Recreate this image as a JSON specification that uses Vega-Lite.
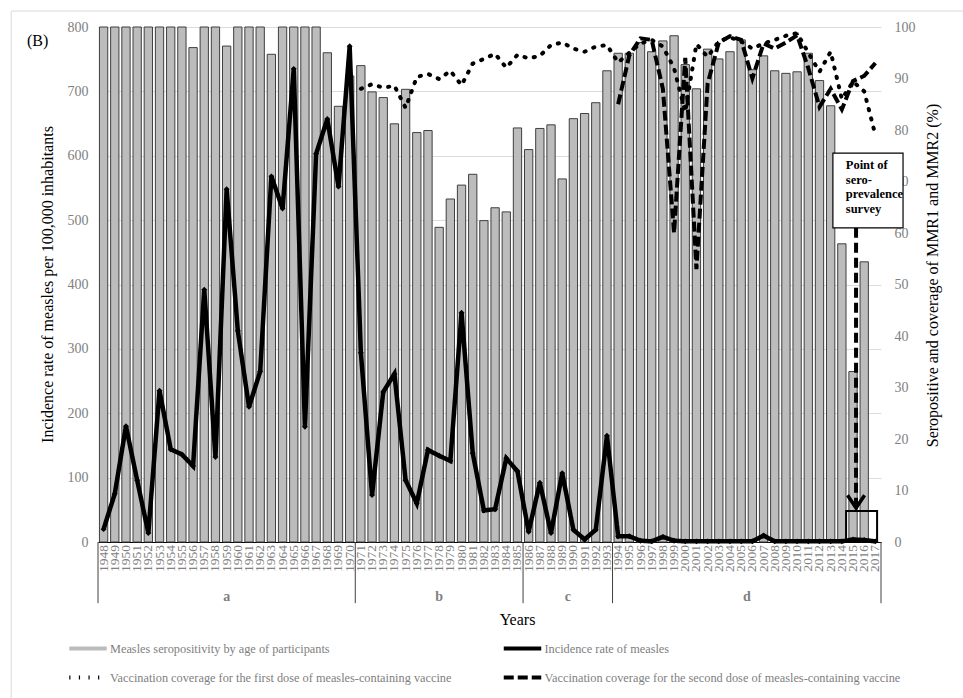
{
  "$schema": "https://vega.github.io/schema/vega-lite/v6.json",
  "width": 783,
  "height": 515,
  "autosize": {"type": "none"},
  "padding": {"left": 98, "top": 27, "right": 82, "bottom": 156},
  "background": "#ffffff",
  "config": {
    "font": "Liberation Serif",
    "view": {"stroke": null},
    "axis": {"labelFont": "Liberation Serif", "titleFont": "Liberation Serif"},
    "legend": {"labelFont": "Liberation Serif"},
    "title": {"font": "Liberation Serif"},
    "text": {"font": "Liberation Serif"}
  },
  "title": {"text": "(B)", "anchor": "start", "frame": "group", "orient": "top", "offset": 0, "baseline": "top", "dx": -71, "dy": 38, "fontSize": 16, "fontWeight": "normal", "color": "#000000"},
  "datasets": {
    "measles": [
      {"year": 1948, "sero": 100, "incidence": 20, "mmr1": null, "mmr2": null},
      {"year": 1949, "sero": 100, "incidence": 75, "mmr1": null, "mmr2": null},
      {"year": 1950, "sero": 100, "incidence": 180, "mmr1": null, "mmr2": null},
      {"year": 1951, "sero": 100, "incidence": 96, "mmr1": null, "mmr2": null},
      {"year": 1952, "sero": 100, "incidence": 14, "mmr1": null, "mmr2": null},
      {"year": 1953, "sero": 100, "incidence": 235, "mmr1": null, "mmr2": null},
      {"year": 1954, "sero": 100, "incidence": 144, "mmr1": null, "mmr2": null},
      {"year": 1955, "sero": 100, "incidence": 136, "mmr1": null, "mmr2": null},
      {"year": 1956, "sero": 96.0, "incidence": 118, "mmr1": null, "mmr2": null},
      {"year": 1957, "sero": 100, "incidence": 392, "mmr1": null, "mmr2": null},
      {"year": 1958, "sero": 100, "incidence": 132, "mmr1": null, "mmr2": null},
      {"year": 1959, "sero": 96.3, "incidence": 548, "mmr1": null, "mmr2": null},
      {"year": 1960, "sero": 100, "incidence": 328, "mmr1": null, "mmr2": null},
      {"year": 1961, "sero": 100, "incidence": 210, "mmr1": null, "mmr2": null},
      {"year": 1962, "sero": 100, "incidence": 265, "mmr1": null, "mmr2": null},
      {"year": 1963, "sero": 94.7, "incidence": 568, "mmr1": null, "mmr2": null},
      {"year": 1964, "sero": 100, "incidence": 518, "mmr1": null, "mmr2": null},
      {"year": 1965, "sero": 100, "incidence": 735, "mmr1": null, "mmr2": null},
      {"year": 1966, "sero": 100, "incidence": 179, "mmr1": null, "mmr2": null},
      {"year": 1967, "sero": 100, "incidence": 603, "mmr1": null, "mmr2": null},
      {"year": 1968, "sero": 95.0, "incidence": 657, "mmr1": null, "mmr2": null},
      {"year": 1969, "sero": 84.6, "incidence": 552, "mmr1": null, "mmr2": null},
      {"year": 1970, "sero": 90.5, "incidence": 770, "mmr1": null, "mmr2": null},
      {"year": 1971, "sero": 92.5, "incidence": 294, "mmr1": 88.0, "mmr2": null},
      {"year": 1972, "sero": 87.4, "incidence": 73, "mmr1": 88.9, "mmr2": null},
      {"year": 1973, "sero": 86.3, "incidence": 233, "mmr1": 88.2, "mmr2": null},
      {"year": 1974, "sero": 81.2, "incidence": 261, "mmr1": 88.6, "mmr2": null},
      {"year": 1975, "sero": 87.9, "incidence": 96, "mmr1": 84.3, "mmr2": null},
      {"year": 1976, "sero": 79.5, "incidence": 60, "mmr1": 90.3, "mmr2": null},
      {"year": 1977, "sero": 79.9, "incidence": 143, "mmr1": 90.9, "mmr2": null},
      {"year": 1978, "sero": 61.1, "incidence": 134, "mmr1": 89.9, "mmr2": null},
      {"year": 1979, "sero": 66.6, "incidence": 126, "mmr1": 91.5, "mmr2": null},
      {"year": 1980, "sero": 69.3, "incidence": 356, "mmr1": 88.7, "mmr2": null},
      {"year": 1981, "sero": 71.4, "incidence": 138, "mmr1": 92.9, "mmr2": null},
      {"year": 1982, "sero": 62.4, "incidence": 49, "mmr1": 93.8, "mmr2": null},
      {"year": 1983, "sero": 64.9, "incidence": 51, "mmr1": 94.8, "mmr2": null},
      {"year": 1984, "sero": 64.1, "incidence": 130, "mmr1": 92.1, "mmr2": null},
      {"year": 1985, "sero": 80.4, "incidence": 110, "mmr1": 94.6, "mmr2": null},
      {"year": 1986, "sero": 76.2, "incidence": 16, "mmr1": 93.9, "mmr2": null},
      {"year": 1987, "sero": 80.3, "incidence": 92, "mmr1": 94.4, "mmr2": null},
      {"year": 1988, "sero": 81.0, "incidence": 14, "mmr1": 96.5, "mmr2": null},
      {"year": 1989, "sero": 70.5, "incidence": 107, "mmr1": 97.0, "mmr2": null},
      {"year": 1990, "sero": 82.2, "incidence": 19, "mmr1": 95.8, "mmr2": null},
      {"year": 1991, "sero": 83.2, "incidence": 4, "mmr1": 95.2, "mmr2": null},
      {"year": 1992, "sero": 85.3, "incidence": 19, "mmr1": 96.2, "mmr2": null},
      {"year": 1993, "sero": 91.5, "incidence": 165, "mmr1": 96.5, "mmr2": null},
      {"year": 1994, "sero": 94.9, "incidence": 9, "mmr1": 93.1, "mmr2": 85.0},
      {"year": 1995, "sero": 94.9, "incidence": 9, "mmr1": 95.0, "mmr2": 94.5},
      {"year": 1996, "sero": 97.0, "incidence": 2, "mmr1": 96.8, "mmr2": 97.8},
      {"year": 1997, "sero": 95.2, "incidence": 1, "mmr1": 97.5, "mmr2": 97.5},
      {"year": 1998, "sero": 97.3, "incidence": 8, "mmr1": 96.2, "mmr2": 88.0},
      {"year": 1999, "sero": 98.3, "incidence": 2, "mmr1": 92.0, "mmr2": 60.0},
      {"year": 2000, "sero": 92.7, "incidence": 1, "mmr1": 83.5, "mmr2": 94.0},
      {"year": 2001, "sero": 88.0, "incidence": 1, "mmr1": 96.7, "mmr2": 53.0},
      {"year": 2002, "sero": 95.7, "incidence": 1, "mmr1": 94.2, "mmr2": 89.0},
      {"year": 2003, "sero": 93.8, "incidence": 1, "mmr1": 97.2, "mmr2": 97.0},
      {"year": 2004, "sero": 95.2, "incidence": 1, "mmr1": 98.0, "mmr2": 98.2},
      {"year": 2005, "sero": 97.5, "incidence": 1, "mmr1": 97.2, "mmr2": 97.5},
      {"year": 2006, "sero": 91.7, "incidence": 1, "mmr1": 95.8, "mmr2": 90.0},
      {"year": 2007, "sero": 94.4, "incidence": 10, "mmr1": 96.8, "mmr2": 96.8},
      {"year": 2008, "sero": 91.5, "incidence": 1, "mmr1": 97.5, "mmr2": 95.8},
      {"year": 2009, "sero": 91.0, "incidence": 1, "mmr1": 98.3, "mmr2": 97.0},
      {"year": 2010, "sero": 91.3, "incidence": 1, "mmr1": 98.8, "mmr2": 98.4},
      {"year": 2011, "sero": 94.9, "incidence": 1, "mmr1": 95.0, "mmr2": 92.0},
      {"year": 2012, "sero": 89.6, "incidence": 1, "mmr1": 91.3, "mmr2": 84.5},
      {"year": 2013, "sero": 84.7, "incidence": 1, "mmr1": 95.2, "mmr2": 88.0},
      {"year": 2014, "sero": 57.9, "incidence": 1, "mmr1": 86.0, "mmr2": 84.0},
      {"year": 2015, "sero": 33.1, "incidence": 4, "mmr1": 89.4, "mmr2": 89.5},
      {"year": 2016, "sero": 54.4, "incidence": 3, "mmr1": 87.5, "mmr2": 90.5},
      {"year": 2017, "sero": null, "incidence": 1, "mmr1": 79.0, "mmr2": 93.0}
    ],
    "groups": [
      {"group": "a", "mid": 1959},
      {"group": "b", "mid": 1978},
      {"group": "c", "mid": 1989.5},
      {"group": "d", "mid": 2005.5}
    ],
    "edges": [
      {"edge": 1947.5},
      {"edge": 1970.5},
      {"edge": 1985.5},
      {"edge": 1993.5},
      {"edge": 2017.5}
    ]
  },
  "layer": [
    {
      "data": {"name": "measles"},
      "layer": [
        {
          "mark": {"type": "bar", "width": 8.3, "stroke": "#3f3f3f"},
          "encoding": {
            "x": {
              "field": "year", "type": "quantitative", "title": "Years",
              "scale": {"domain": [1947.5, 2017.5], "nice": false, "zero": false, "padding": 0},
              "axis": {
                "labels": false, "ticks": false, "grid": false, "domainColor": "#000000", "domainWidth": 1,
                "titleFontSize": 16, "titleFontWeight": "normal", "titleColor": "#000000",
                "titleX": 419, "titleY": 77, "titleBaseline": "middle", "titleAlign": "center"
              }
            },
            "y": {
              "field": "sero", "type": "quantitative", "title": "Seropositive and coverage of MMR1 and MMR2 (%)",
              "scale": {"domain": [0, 100], "nice": false},
              "axis": {
                "orient": "right", "values": [0,10,20,30,40,50,60,70,80,90,100],
                "grid": false, "domain": false, "ticks": false,
                "labelColor": "#808080", "labelFontSize": 14, "labelPadding": 13,
                "titleFontSize": 16, "titleFontWeight": "normal", "titleColor": "#000000",
                "titleAngle": 270, "titleX": 51, "titleY": 248, "titleBaseline": "middle", "titleAlign": "center"
              }
            },
            "color": {
              "datum": "Measles seropositivity by age of participants", "type": "nominal",
              "scale": {
                "domain": [
                  "Measles seropositivity by age of participants",
                  "Incidence rate of measles",
                  "Vaccination coverage for the first dose of measles-containing vaccine",
                  "Vaccination coverage for the second dose of measles-containing vaccine"
                ],
                "range": ["#bcbcbc", "#000000", "#000000", "#000000"]
              },
              "legend": {
                "orient": "none", "legendX": -31, "legendY": 600.5, "columns": 2, "direction": "horizontal",
                "title": null, "symbolType": "stroke", "symbolSize": 1406, "symbolStrokeWidth": 4,
                "labelOffset": 1, "rowPadding": -18.5, "columnPadding": 29.5,
                "labelFontSize": 12.3, "labelColor": "#808080", "labelLimit": 600, "gridAlign": "all"
              }
            }
          }
        },
        {
          "mark": {"type": "line", "strokeWidth": 4, "strokeCap": "round"},
          "encoding": {
            "x": {"field": "year", "type": "quantitative", "title": "Years"},
            "y": {"field": "mmr1", "type": "quantitative", "title": "Seropositive and coverage of MMR1 and MMR2 (%)"},
            "color": {"datum": "Vaccination coverage for the first dose of measles-containing vaccine", "type": "nominal"},
            "strokeDash": {
              "datum": "Vaccination coverage for the first dose of measles-containing vaccine", "type": "nominal",
              "scale": {
                "domain": [
                  "Measles seropositivity by age of participants",
                  "Incidence rate of measles",
                  "Vaccination coverage for the first dose of measles-containing vaccine",
                  "Vaccination coverage for the second dose of measles-containing vaccine"
                ],
                "range": [[1, 0], [1, 0], [1.2, 8.4], [10, 4]]
              },
              "legend": {
                "orient": "none", "legendX": -31, "legendY": 600.5, "columns": 2, "direction": "horizontal",
                "title": null, "symbolType": "stroke", "symbolSize": 1406, "symbolStrokeWidth": 4,
                "labelOffset": 1, "rowPadding": -18.5, "columnPadding": 29.5,
                "labelFontSize": 12.3, "labelColor": "#808080", "labelLimit": 600, "gridAlign": "all"
              }
            }
          }
        },
        {
          "mark": {"type": "line", "strokeWidth": 4},
          "encoding": {
            "x": {"field": "year", "type": "quantitative", "title": "Years"},
            "y": {"field": "mmr2", "type": "quantitative", "title": "Seropositive and coverage of MMR1 and MMR2 (%)"},
            "color": {"datum": "Vaccination coverage for the second dose of measles-containing vaccine", "type": "nominal"},
            "strokeDash": {"datum": "Vaccination coverage for the second dose of measles-containing vaccine", "type": "nominal"}
          }
        }
      ]
    },
    {
      "layer": [
        {
          "data": {"name": "measles"},
          "mark": {"type": "line", "strokeWidth": 4.5, "strokeJoin": "miter"},
          "encoding": {
            "x": {"field": "year", "type": "quantitative", "title": "Years"},
            "y": {
              "field": "incidence", "type": "quantitative", "title": "Incidence rate of measles per 100,000 inhabitants",
              "scale": {"domain": [0, 800], "nice": false},
              "axis": {
                "orient": "left", "values": [0,100,200,300,400,500,600,700,800],
                "grid": true, "gridColor": "#dcdcdc", "domain": false, "ticks": false,
                "labelColor": "#808080", "labelFontSize": 14, "labelPadding": 10,
                "titleFontSize": 16, "titleFontWeight": "normal", "titleColor": "#000000",
                "titleAngle": 270, "titleX": -51, "titleY": 257, "titleBaseline": "middle", "titleAlign": "center"
              }
            },
            "color": {"datum": "Incidence rate of measles", "type": "nominal"},
            "strokeDash": {"datum": "Incidence rate of measles", "type": "nominal"}
          }
        },
        {
          "data": {"name": "measles"},
          "mark": {"type": "point", "shape": "diamond", "filled": true, "size": 35, "color": "#000000", "opacity": 1},
          "encoding": {
            "x": {"field": "year", "type": "quantitative", "title": "Years"},
            "y": {"field": "incidence", "type": "quantitative", "title": "Incidence rate of measles per 100,000 inhabitants"}
          }
        },
        {
          "data": {"name": "measles"},
          "mark": {"type": "text", "angle": 270, "align": "right", "baseline": "middle", "fontSize": 13.5, "color": "#808080"},
          "encoding": {
            "x": {"field": "year", "type": "quantitative", "title": "Years"},
            "y": {"datum": -4.7, "type": "quantitative"},
            "text": {"field": "year", "type": "quantitative", "format": "d"}
          }
        },
        {
          "data": {"name": "edges"},
          "mark": {"type": "rule", "color": "#404040", "strokeWidth": 1},
          "encoding": {
            "x": {"field": "edge", "type": "quantitative", "title": "Years"},
            "y": {"datum": 0, "type": "quantitative"},
            "y2": {"datum": -95}
          }
        },
        {
          "data": {"name": "groups"},
          "mark": {"type": "text", "fontSize": 14, "fontWeight": "bold", "color": "#808080", "baseline": "middle", "align": "center"},
          "encoding": {
            "x": {"field": "mid", "type": "quantitative", "title": "Years"},
            "y": {"datum": -85.4, "type": "quantitative"},
            "text": {"field": "group"}
          }
        },
        {
          "data": {"values": [{}]},
          "mark": {"type": "rect", "fill": "transparent", "stroke": "#d9d9d9", "strokeWidth": 1},
          "encoding": {
            "x": {"datum": 1939.74, "type": "quantitative"},
            "x2": {"datum": 2040},
            "y": {"datum": 824.8, "type": "quantitative"},
            "y2": {"datum": -500}
          }
        },
        {
          "data": {"values": [{}]},
          "mark": {"type": "rect", "fill": "transparent", "stroke": "#000000", "strokeWidth": 2},
          "encoding": {
            "x": {"datum": 2014.38, "type": "quantitative"},
            "x2": {"datum": 2017.15},
            "y": {"datum": 0, "type": "quantitative"},
            "y2": {"datum": 48}
          }
        },
        {
          "data": {"values": [{}]},
          "mark": {"type": "rule", "strokeWidth": 4, "strokeDash": [10, 5], "color": "#000000"},
          "encoding": {
            "x": {"datum": 2015.27, "type": "quantitative"},
            "y": {"datum": 488, "type": "quantitative"},
            "y2": {"datum": 58}
          }
        },
        {
          "data": {"values": [{}]},
          "mark": {"type": "point", "shape": "M-1,-1.5L0,0L1,-1.5", "size": 289, "filled": false, "stroke": "#000000", "strokeWidth": 3.5, "opacity": 1},
          "encoding": {
            "x": {"datum": 2015.27, "type": "quantitative"},
            "y": {"datum": 52.8, "type": "quantitative"}
          }
        },
        {
          "data": {"values": [{}]},
          "mark": {"type": "rect", "fill": "#ffffff", "stroke": "#000000", "strokeWidth": 1.2},
          "encoding": {
            "x": {"datum": 2013.2, "type": "quantitative"},
            "x2": {"datum": 2019.47},
            "y": {"datum": 604, "type": "quantitative"},
            "y2": {"datum": 488}
          }
        },
        {
          "data": {"values": [{}]},
          "mark": {"type": "text", "align": "left", "baseline": "top", "fontWeight": "bold", "fontSize": 12.5, "lineHeight": 14.7, "color": "#000000"},
          "encoding": {
            "x": {"datum": 2014.35, "type": "quantitative"},
            "y": {"datum": 595, "type": "quantitative"},
            "text": {"value": ["Point of", "sero-", "prevalence", "survey"]}
          }
        }
      ]
    }
  ],
  "resolve": {"scale": {"y": "independent"}}
}
